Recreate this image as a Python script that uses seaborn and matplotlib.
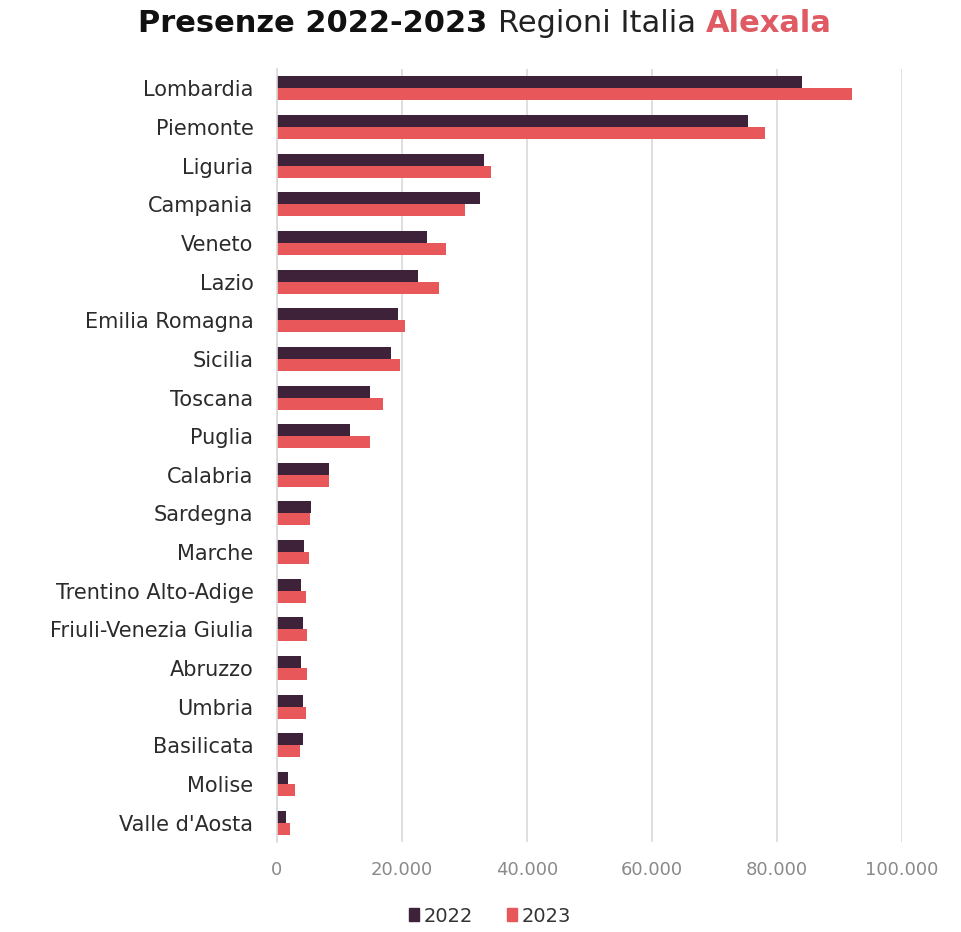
import pandas as pd
import numpy as np
import matplotlib
matplotlib.use('Agg')
import matplotlib.pyplot as plt
import seaborn as sns

# Data
regioni = ['Lombardia', 'Piemonte', 'Liguria', 'Campania', 'Veneto', 'Lazio',
           'Emilia Romagna', 'Sicilia', 'Toscana', 'Puglia', 'Calabria', 'Sardegna',
           'Marche', 'Trentino Alto-Adige', 'Friuli-Venezia Giulia', 'Abruzzo',
           'Umbria', 'Basilicata', 'Molise', "Valle d'Aosta"]
presenze_2022 = [84000, 75300, 33100, 32500, 24000, 22600, 19400, 18200, 14900, 11700,
                 8300, 5400, 4300, 3800, 4100, 3800, 4100, 4200, 1750, 1500]
presenze_2023 = [92000, 78000, 34200, 30100, 27100, 25900, 20400, 19700, 16900, 14900,
                 8300, 5200, 5100, 4700, 4800, 4800, 4700, 3600, 2900, 2000]
anni = ['2022', '2023']
colori = ['#3e2239', '#e8585b']
xticks = [0, 20000, 40000, 60000, 80000, 100000]

df = pd.DataFrame({'Regione': regioni * 2,
                   'Anno': ['2022'] * len(regioni) + ['2023'] * len(regioni),
                   'Presenze': presenze_2022 + presenze_2023})

sns.set_theme(style='white')
plt.rcParams['font.family'] = ['DejaVu Sans']

fig = plt.figure(figsize=(9.61, 9.32), dpi=100)
ax = fig.add_axes([277 / 961, 1 - 842 / 932, (902 - 277) / 961, (842 - 69) / 932])

sns.barplot(data=df, y='Regione', x='Presenze', hue='Anno', orient='h',
            palette=colori, width=0.62, saturation=1, linewidth=0, ax=ax, legend=False)

ax.set_xlim(0, 100000)
ax.set_xticks(xticks)
ax.set_xticklabels([f'{v:,}'.replace(',', '.') for v in xticks], color='#8a8a8a', fontsize=13)
ax.tick_params(axis='y', labelsize=15, labelcolor='#2b2b2b', length=0, pad=17)
ax.tick_params(axis='x', length=0, pad=14)
ax.set_xlabel('')
ax.set_ylabel('')
ax.grid(axis='x', color='#d9d9d9', linewidth=1.2)
ax.set_axisbelow(True)
for s in ['top', 'right', 'bottom']:
    ax.spines[s].set_visible(False)
ax.spines['left'].set_color('#d9d9d9')
ax.spines['left'].set_linewidth(1.2)

# legend
handles = [plt.Rectangle((0, 0), 1, 1, color=c) for c in colori]
fig.legend(handles, anni, loc='center', bbox_to_anchor=(490 / 961, 1 - 916 / 932),
           ncol=2, frameon=False, fontsize=14, handlelength=0.55, handleheight=0.65,
           handletextpad=0.25, columnspacing=1.7, labelcolor='#333333')

# title in three parts
fig.canvas.draw()
renderer = fig.canvas.get_renderer()
parti = [('Presenze 2022-2023 ', 'bold', '#111111'),
         ('Regioni Italia ', 'normal', '#222222'),
         ('Alexala', 'bold', '#e05a63')]
testi = []
for t, w, c in parti:
    testi.append(fig.text(0, 1 - 23 / 932, t, fontsize=22, fontweight=w, color=c, va='center'))
larghezze = [tx.get_window_extent(renderer).width for tx in testi]
x = 485 - sum(larghezze) / 2
for tx, lw in zip(testi, larghezze):
    tx.set_x(x / 961)
    x += lw

fig.savefig('out.png', dpi=100)
